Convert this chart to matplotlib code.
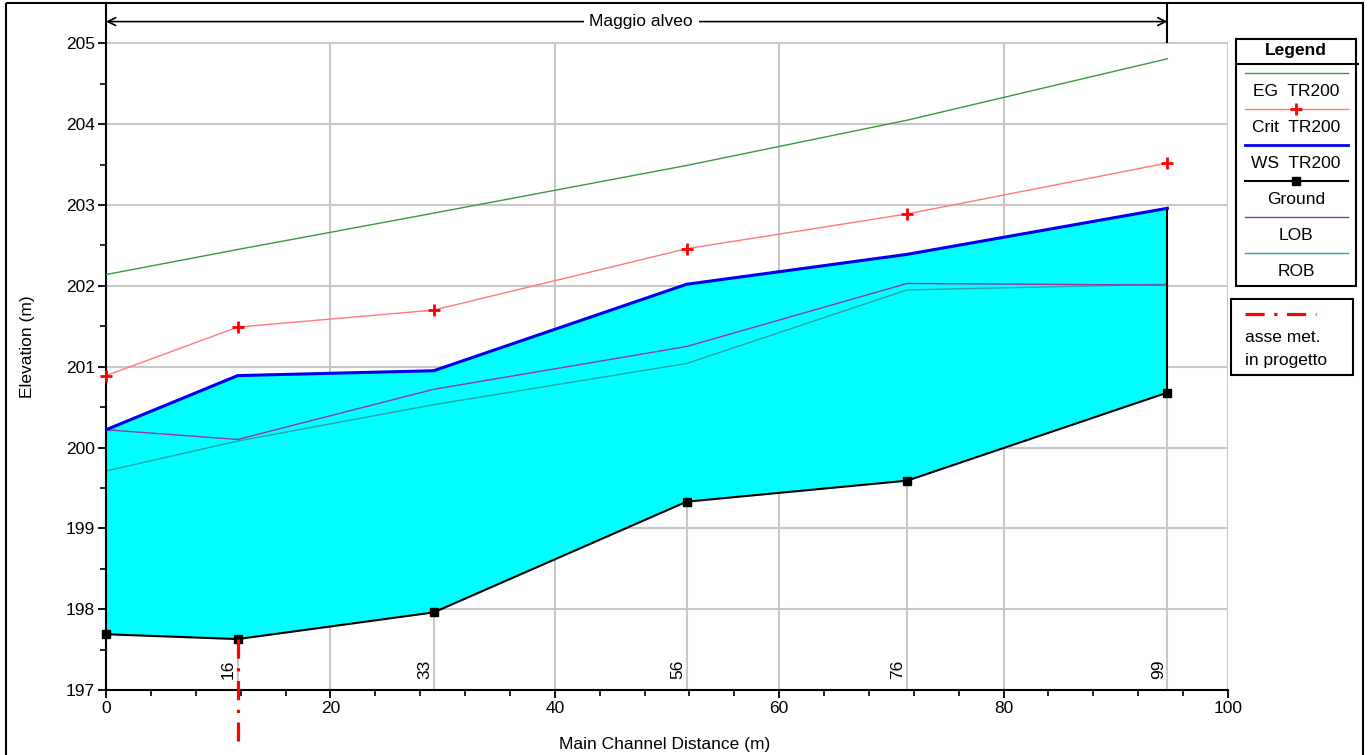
import numpy as np
import matplotlib
matplotlib.use("Agg")
import matplotlib.pyplot as plt
from matplotlib.patches import Rectangle

plt.rcParams['font.family'] = ['Liberation Sans', 'DejaVu Sans']

# ------------------------------------------------------------
# Data
# ------------------------------------------------------------
station = [0.0, 11.74, 29.2, 51.75, 71.4, 94.6]
station_labels = ["", "16", "33", "56", "76", "99"]
eg = [202.14, 202.45, 202.90, 203.49, 204.05, 204.81]
crit = [200.89, 201.49, 201.70, 202.46, 202.89, 203.52]
ws = [200.22, 200.89, 200.95, 202.02, 202.39, 202.96]
ground = [197.69, 197.63, 197.96, 199.33, 199.59, 200.68]
lob = [200.22, 200.10, 200.72, 201.25, 202.03, 202.01]
rob = [199.71, 200.08, 200.53, 201.04, 201.95, 202.02]

axis_station = 11.74
reach_name = "Maggio alveo"
xticks = [0, 20, 40, 60, 80, 100]
yticks = [197, 198, 199, 200, 201, 202, 203, 204, 205]

legend_names = ["EG  TR200", "Crit  TR200", "WS  TR200", "Ground", "LOB", "ROB"]

# ------------------------------------------------------------
# Styles
# ------------------------------------------------------------
c_eg = "#3a9a3a"
c_crit_line = "#ff7a7a"
c_crit_mk = "#ff0000"
c_ws = "#0000ee"
c_ground = "black"
c_lob = "#8a3aa8"
c_rob = "#2aa0a8"
c_grid = "#c8c8c8"
fs = 12.5

fig = plt.figure(figsize=(13.68, 7.55), dpi=100)
W, H = 1368, 755
ax = fig.add_axes([106 / W, 1 - 690 / H, (1228 - 106) / W, (690 - 3) / H])
ax.set_xlim(0, 100)
ax.set_ylim(197, 205.5)

# grid (stops at 205 / 100)
ax.hlines(yticks, 0, 100, color=c_grid, lw=1.5, zorder=0)
ax.vlines(xticks[1:], 197, 205, color=c_grid, lw=1.5, zorder=0)
ax.vlines(station[1:], 197, ground[1:], color=c_grid, lw=1.5, zorder=0)

# water area
ax.fill_between(station, ground, ws, color="#00ffff", lw=0, zorder=1)
ax.vlines(station[-1], ground[-1], ws[-1], color="black", lw=1.5, zorder=3)

ax.plot(station, rob, color=c_rob, lw=1, zorder=2)
ax.plot(station, lob, color=c_lob, lw=1, zorder=2)
ax.plot(station, ground, color=c_ground, lw=1.5, marker="s", ms=6, zorder=4,
        clip_on=False)
ax.plot(station, ws, color=c_ws, lw=2.2, zorder=3)
ax.plot(station, crit, color=c_crit_line, lw=1, zorder=3)
ax.plot(station, crit, ls="none", marker="+", ms=8, mew=2, color=c_crit_mk, zorder=4,
        clip_on=False)
ax.plot(station, eg, color=c_eg, lw=1, zorder=3)

# station labels
for s, lab in zip(station, station_labels):
    if lab:
        ax.text(s - 0.15, 197.13, lab, rotation=90, ha="right", va="bottom",
                fontsize=fs, zorder=5)

# proposed axis (dash-dot)
ax.plot([axis_station, axis_station], [ground[1], 196.37], color="red", lw=2.3,
        ls=(0, (6, 3, 1, 3)), clip_on=False, zorder=6)

# reach arrow
ya = 205.27
ax.annotate("", xy=(0, ya), xytext=(station[-1], ya),
            arrowprops=dict(arrowstyle="<->", lw=1.2, color="black",
                            shrinkA=0, shrinkB=0, mutation_scale=14))
ax.vlines(station[-1], 205.0, 205.5, color="black", lw=1.5, clip_on=False)
ax.text(47.7, ya, reach_name, ha="center", va="center", fontsize=fs,
        bbox=dict(facecolor="white", edgecolor="none", pad=4))

# axes cosmetics
for side in ["top", "right"]:
    ax.spines[side].set_visible(False)
for side in ["left", "bottom"]:
    ax.spines[side].set_linewidth(1.5)
ax.set_xticks(xticks)
ax.set_yticks(yticks)
ax.set_xticks(np.arange(0, 101, 4), minor=True)
ax.set_yticks(np.arange(197, 205.01, 0.5), minor=True)
ax.tick_params(which="major", direction="out", length=6, width=1.3, labelsize=fs, pad=2)
ax.tick_params(which="minor", direction="out", length=4, width=1.2)
ax.set_xlabel("Main Channel Distance (m)", fontsize=12.5)
ax.set_ylabel("Elevation (m)", fontsize=12.5)
ax.xaxis.set_label_coords(0.498, -0.069)
ax.yaxis.set_label_coords(-0.0633, 0.5)

# ------------------------------------------------------------
# Legend and frame drawn in a pixel overlay
# ------------------------------------------------------------
ov = fig.add_axes([0, 0, 1, 1], zorder=10)
ov.set_xlim(0, W)
ov.set_ylim(H, 0)
ov.axis("off")
ov.patch.set_visible(False)

ov.add_patch(Rectangle((6, 3), 1357, 770, fill=False, lw=1.5, ec="black", clip_on=False))

ov.add_patch(Rectangle((1235.5, 38.5), 120, 247, fill=False, lw=1.5, ec="black"))
ov.plot([1235.5, 1358], [64, 64], color="black", lw=1.5)
ov.text(1296, 51, "Legend", ha="center", va="center", fontsize=fs, fontweight="bold")

styles = [
    dict(color=c_eg, lw=1),
    dict(color=c_crit_line, lw=1),
    dict(color=c_ws, lw=2),
    dict(color=c_ground, lw=1.5),
    dict(color=c_lob, lw=1),
    dict(color=c_rob, lw=1),
]
for i, (name, st) in enumerate(zip(legend_names, styles)):
    yl = 73 + i * 36
    ov.plot([1245, 1348], [yl, yl], **st)
    if name.startswith("Crit"):
        ov.plot([1296], [yl], ls="none", marker="+", ms=8, mew=2, color=c_crit_mk)
    if name == "Ground":
        ov.plot([1296], [yl], ls="none", marker="s", ms=6, color="black")
    ov.text(1296, yl + 19, name, ha="center", va="center", fontsize=fs)

ov.add_patch(Rectangle((1230.5, 298.5), 122, 76.5, fill=False, lw=1.5, ec="black"))
ov.plot([1245, 1316], [314, 314], color="red", lw=2.3, ls=(0, (6, 3, 1, 3)))
ov.text(1245, 338, "asse met.", ha="left", va="center", fontsize=fs)
ov.text(1245, 361, "in progetto", ha="left", va="center", fontsize=fs)

fig.savefig("out.png", dpi=100)
